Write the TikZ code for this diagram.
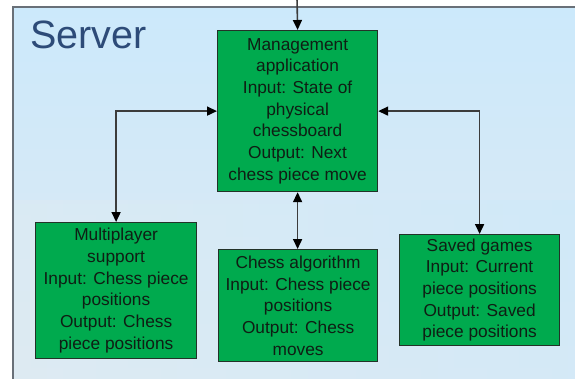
\documentclass[tikz,border=0pt]{standalone}
\usepackage{fontspec}
\setmainfont{Liberation Sans}
\usetikzlibrary{arrows.meta}
\definecolor{panelA}{RGB}{204,233,251}
\definecolor{panelB}{RGB}{222,234,242}
\definecolor{panelline}{RGB}{105,112,120}
\definecolor{boxgreen}{RGB}{0,170,78}
\definecolor{boxline}{RGB}{35,50,40}
\definecolor{boxtext}{RGB}{15,30,20}
\definecolor{servertext}{RGB}{45,75,120}
\definecolor{conn}{RGB}{60,60,60}
\tikzset{
  module/.style={draw=boxline, line width=1.2pt, fill=boxgreen, text=boxtext,
    anchor=north west, inner sep=0pt, align=center,
    font=\fontsize{17.3}{21.7}\selectfont},
  link/.style={draw=conn, line width=1.6pt,
    arrows={Triangle[length=10pt,width=9pt,color=black]-Triangle[length=10pt,width=9pt,color=black]}},
  inlink/.style={draw=conn, line width=1.6pt,
    arrows={-Triangle[length=10pt,width=9pt,color=black]}}
}
\begin{document}
\begin{tikzpicture}[x=1pt,y=-1pt]
\useasboundingbox (0,0) rectangle (575,378);
\clip (0,0) rectangle (575,378);
\shade[top color=panelA, bottom color=panelB, draw=panelline, line width=1.5pt]
  (13,7) rectangle (600,400);
\shade[left color=panelB, right color=panelA, opacity=0.5] (14,200) rectangle (600,400);
\node[anchor=base west, inner sep=0pt, text=servertext,
  font=\fontsize{39.5}{44}\selectfont] (title) at (30,48) {Server};

\node[module, minimum width=160pt, minimum height=161pt] (mg) at (217,30)
  {Management\\application\\Input: State of\\physical\\chessboard\\Output: Next\\chess piece move};
\node[module, minimum width=161pt, minimum height=136pt] (mp) at (35,222)
  {Multiplayer\\support\\Input: Chess piece\\positions\\Output: Chess\\piece positions};
\node[module, minimum width=159pt, minimum height=112pt] (ca) at (218,249)
  {Chess algorithm\\Input: Chess piece\\positions\\Output: Chess\\moves};
\node[module, minimum width=160pt, minimum height=111pt] (sg) at (399,234)
  {Saved games\\Input: Current\\piece positions\\Output: Saved\\piece positions};

\coordinate (ext) at (297,-2);
\draw[inlink] (ext) -- (mg.north);
\draw[link] (mg.west) -| (mp.north);
\draw[link] (mg.east) -| (sg.north);
\draw[link] (mg.south) -- (mg.south |- ca.north);
\end{tikzpicture}
\end{document}
